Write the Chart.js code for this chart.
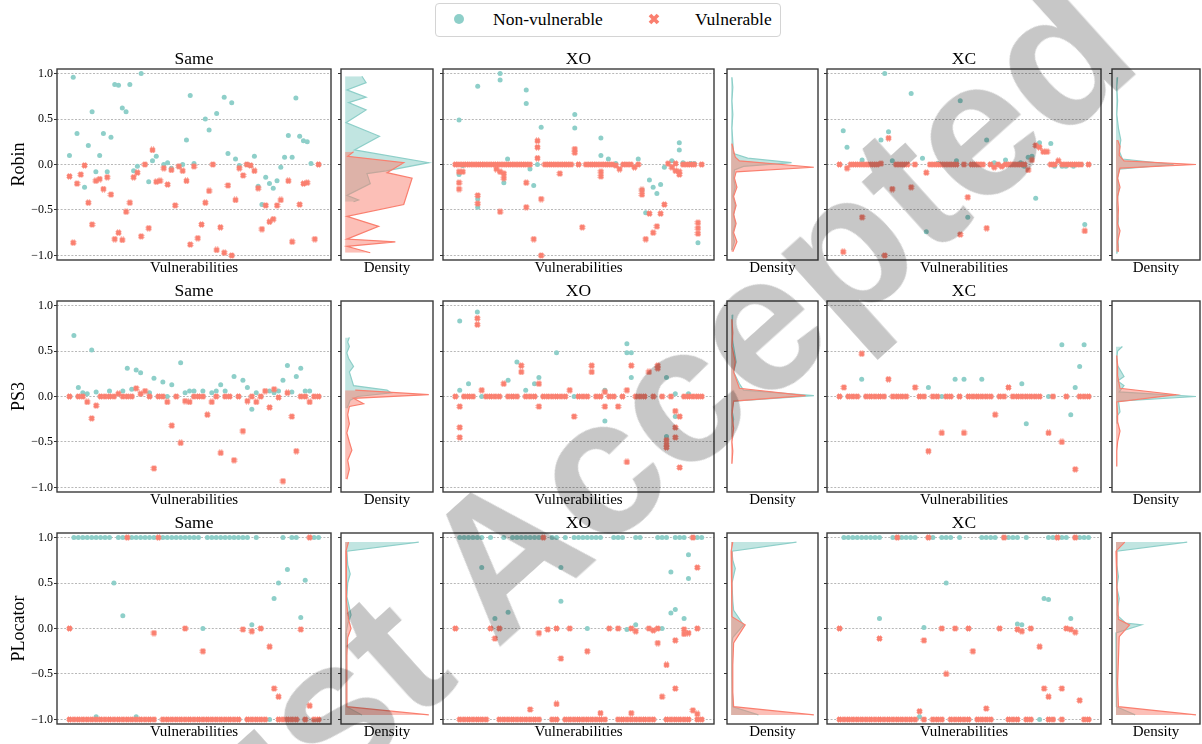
<!DOCTYPE html>
<html>
<head>
<meta charset="utf-8">
<script src="https://cdn.jsdelivr.net/npm/chart.js@4.4.1/dist/chart.umd.min.js"></script>
<style>
  html, body { margin: 0; padding: 0; background: #fff; }
  body { position: relative; width: 1202px; height: 744px; overflow: hidden;
         font-family: "Liberation Serif", "Times New Roman", serif; }
  canvas { position: absolute; }
  #legend { position: absolute; left: 435px; top: 3px; width: 344px; height: 32px;
            border: 1px solid #d4d4d4; border-radius: 4px; background: #fff; z-index: 5; }
  #legend .lab { position: absolute; top: 0; line-height: 30px; font-size: 17.5px; color: #000; white-space: nowrap; }
  #legend .dot { position: absolute; left: 18px; top: 10px; width: 10px; height: 10px; border-radius: 50%; background: #8ECFC9; }
  #legend svg { position: absolute; left: 212px; top: 9px; }
  #stamp { position: absolute; left: 165px; top: 948px; transform-origin: 0 0;
           transform: rotate(-42deg) translateY(-67.2px);
           font-family: "Liberation Sans", Arial, sans-serif; font-weight: bold; font-size: 194px;
           line-height: 0; white-space: nowrap; color: rgba(0,0,0,0.22); pointer-events: none; z-index: 10; }
</style>
</head>
<body>
<div id="legend">
  <span class="dot"></span><span class="lab" style="left:57px">Non-vulnerable</span>
  <svg width="12" height="12" viewBox="0 0 12 12"><path d="M2,2 L10,10 M10,2 L2,10" stroke="#FA7F6F" stroke-width="3.8"/></svg>
  <span class="lab" style="left:259px">Vulnerable</span>
</div>
<div id="stamp">Just Accepted</div>
<script>
// ---- Scores per vulnerability (index = vulnerability); an entry may hold several scores ----
const robinSameNon = [0.10,0.96,0.34,null,-0.25,0.21,0.58,-0.08,0.10,0.34,
  -0.08,0.30,0.88,0.87,0.62,0.58,0.88,-0.07,-0.02,1.00,
  null,-0.19,0.04,0.09,null,0.00,0.02,-0.04,null,-0.02,
  0.00,0.27,0.76,0.01,null,null,0.50,0.38,null,0.56,
  null,0.74,0.12,0.68,0.06,-0.01,null,0.00,-0.01,0.09,
  -0.24,-0.44,-0.14,-0.21,-0.26,-0.18,-0.03,0.08,0.32,0.08,
  0.73,0.31,0.26,0.25,0.01,null,null];
const robinSameVul = [-0.13,-0.86,-0.21,-0.11,-0.01,-0.42,-0.66,-0.18,-0.16,-0.27,
  -0.14,-0.33,-0.82,-0.75,-0.83,-0.52,-0.42,-0.14,-0.09,-0.79,
  0.00,-0.70,0.16,-0.19,-0.18,-0.04,-0.22,-0.06,-0.45,-0.02,
  -0.07,-0.18,-0.88,-0.02,-0.81,-0.66,-0.42,-0.29,0.00,-0.94,
  -0.69,-0.97,-0.23,-1.00,-0.39,-0.04,-0.12,0.00,-0.01,-0.07,
  -0.26,-0.71,-0.45,-0.63,-0.60,-0.45,-0.39,null,-0.18,-0.85,
  null,-0.44,-0.21,-0.20,null,-0.82,0.00];

const robinXONon = [null,[0.49,-0.11],-0.01,null,null,null,[0.86,-0.38,-0.47],null,null,null,
  null,null,[1.00,0.93],-0.20,0.06,null,null,null,null,[0.82,0.67],
  -0.05,-0.23,0.00,0.41,null,null,null,null,null,null,
  null,null,[0.55,0.40],null,null,null,null,null,null,[0.29,0.10],
  null,0.06,null,0.01,null,null,null,null,null,0.06,
  -0.28,-0.53,-0.17,-0.25,-0.32,-0.22,-0.03,null,0.04,null,
  [0.24,0.16],0.02,null,0.01,0.01,-0.86,null];
const robinXOVul = [0,[0,-0.08,-0.20,-0.27],[0,-0.08],0,0,0,[0,-0.34,-0.43],0,0,0,
  0,[0,-0.05],[0,-0.08,-0.52],[0,-0.10,-0.15],0,0,0,0,0,[0,-0.20,-0.47],
  0,-0.82,[0.26,0.19,0.07],[-0.38,-1.00],0,0,0,0,[0,-0.10],0,
  0,0,[0.17,0.13],0,-0.69,0,0,0,0,[0,-0.08,-0.13],
  0,0,0,-0.01,-0.05,0,0,0,-0.03,0,
  [-0.28,-0.33],-0.82,-0.54,-0.75,-0.68,-0.54,-0.44,0.01,-0.03,[0.01,-0.07],
  [-0.08,-0.11],0,0,0,0,[-0.64,-0.70,-0.76],0];

const robinXCNon = [null,0.37,0.19,null,null,null,0.05,null,null,null,
  null,0.27,1.00,0.36,0.04,null,null,null,null,0.78,
  null,null,0.07,-0.74,null,null,0.01,null,null,null,
  null,0.04,0.70,null,-0.58,null,null,null,null,0.27,
  null,0.02,null,null,0.05,null,null,null,0.02,-0.02,
  0.08,0.09,-0.37,0.24,null,null,0.23,-0.02,null,-0.02,
  -0.02,null,-0.02,null,0.00,-0.66,null];
const robinXCVul = [0,-0.96,-0.04,0,0,0,[0,-0.58],0,0,0,
  0,0.01,-1.00,0.29,-0.27,0,0,0,0,-0.25,
  0,null,null,-0.09,0,0,0,0,0,0,
  0,0,-0.77,0,-0.36,0,0,0,0,-0.70,
  0,-0.03,0,-0.02,0,0,0,0,0,0,
  -0.06,0.05,0.21,0.19,0.14,0.14,0,0,0.04,0,
  0,0,0,0,0,-0.73,0];

const ps3SameNon = [null,0.67,0.10,0.04,0.03,0.51,0.05,null,null,0.06,
  null,null,0.06,0.31,0.08,0.29,0.26,null,0.04,0.20,
  null,0.16,0.00,0.13,null,0.37,0.04,0.06,0.06,null,
  0.06,null,0.04,0.06,0.13,0.06,null,0.22,null,0.18,
  0.10,-0.14,0.04,null,null,0.06,0.04,0.06,0.18,0.34,
  0.05,0.22,0.31,0.06,0.06,null,null];
const ps3SameVul = [0,null,0,0,-0.06,-0.24,-0.10,0,0,0,
  0,0.03,0,0,0,0.09,0.03,0.06,0,-0.79,
  0,0,-0.06,-0.32,0,-0.51,-0.05,-0.06,0,0,
  0,-0.20,-0.06,0,-0.62,0,0,-0.70,0,-0.38,
  -0.05,0,-0.06,0,0.06,-0.12,0.08,-0.01,-0.93,0.04,
  -0.22,-0.60,0,0,-0.06,0,0];

const ps3XONon = [null,[0.83,0.07],null,0.14,null,0.93,0.00,null,null,null,
  null,null,0.18,null,0.38,null,0.07,null,0.14,0.21,
  null,null,null,0.48,null,null,null,0.00,null,null,
  null,null,null,null,[0.07,-0.27],null,null,null,null,[0.58,0.48],
  [0.48,0.21],null,null,null,null,null,null,null,[0.21,-0.44],null,
  [0.03,-0.22],null,null,0.03,null,null,null];
const ps3XOVul = [0,[-0.11,-0.34,-0.45],0,0,0,[0.86,0.79],0.07,0,0,0,
  0,0.14,0,0,0,[0.34,0.27],0,0,0,[0.14,-0.11],
  0,0,0,0,0,0,0.07,-0.22,0,0,
  0,[0.34,0.27],0,0,[0.05,-0.11],0,0,-0.11,0,[0.07,-0.72],
  0.34,0,0,0,0.27,0,[0.34,0.31],0,[-0.48,-0.53,-0.56],0,
  [-0.16,-0.34,-0.45],[-0.22,-0.78],0,0,0,0,0];

const ps3XCNon = [null,null,null,null,null,0.19,null,null,null,null,
  null,null,null,null,null,null,null,null,null,null,
  0.10,null,null,0.00,null,null,0.19,null,0.19,null,
  null,null,0.19,null,null,null,null,null,null,null,
  null,0.14,-0.30,null,null,null,null,0.00,null,null,
  0.57,null,-0.20,0.10,0.33,0.57,null];
const ps3XCVul = [0,0.10,0,0,0,0.47,0,0,0,0,
  0,0.19,0,0,0,0,null,0.10,0,0,
  -0.60,0,0,-0.40,0,0,null,0,-0.40,0,
  0,0,0,0,0,-0.20,0,0,0.10,0,
  0,0,0,0,0,0,null,-0.40,0,null,
  -0.50,0,null,-0.80,0,0,0];

const plocSameNon = [null,1,1,1,1,1,[1,-0.97],1,1,1,
  0.50,1,[1,0.14],null,1,[1,-0.97],1,1,1,1,
  null,1,1,1,1,1,1,1,1,1,
  0.00,1,1,1,1,1,1,1,1,1,
  1,0.04,1,null,null,-1.00,0.33,0.50,1,0.65,
  1,1,0.12,0.53,null,1,1];
const plocSameVul = [[0,-1],-1,-1,-1,-1,-1,-1,-1,-1,-1,
  -1,-1,-1,[1,-1],-1,-1,-1,-1,-1,[-0.05,-1],
  1,-1,-1,-1,-1,-1,[0,-1],-1,-1,-1,
  [-0.25,-1],-1,-1,-1,-1,-1,-1,-1,-1,-0.01,
  -1,[-0.03,-1],-1,[0,-1],-1,-0.20,-0.66,[-0.75,-1],-1,-1,
  -1,-1,-0.01,-1,[1,-0.85],-1,-1];

const plocXONon = [null,1,1,1,1,1,[1,0.67],null,1,0.11,
  null,1,0.18,1,1,1,1,1,1,1,
  null,null,1,1,[0.67,0.30],1,null,1,1,1,
  [1,0],1,1,1,null,null,1,1,1,-0.01,
  null,[1,0.04],1,null,null,null,1,[1,0],1,[0.62,0.17],
  [1,0.21],1,[1,0.11],[0.81,0.55],1,1,1];
const plocXOVul = [0,-1,-1,-1,-1,-1,-1,-1,0,-0.11,
  [0,-1],-1,-1,-1,-1,-1,-1,[-0.89,-1],-1,[-0.05,-1],
  1,-0.01,-1,[0,-0.83,-1],-0.33,-1,[0,-1],-1,-1,-1,
  [-0.25,-1],-1,-1,[-0.93,-1],-1,0,null,[0,-1],-1,-1,
  [0,-0.93,-1],[-0.03,-1],-1,-1,[0,-1],[-0.02,-1],[-0.16,0],-0.75,[-0.40,-1],-1,
  [-0.13,-0.66,-1],-1,[-0.01,-0.06,-1],[-0.05,-1],[1,-0.90],[0,0.67,-0.94,-1],-1];

const plocXCNon = [null,1,1,1,1,1,1,1,1,[1,0.11],
  null,null,1,1,1,1,1,1,-0.97,0.01,
  1,1,null,1,[1,0.50],1,null,1,null,null,
  null,null,1,1,1,1,null,1,1,1,
  [1,0.05],0.04,1,null,null,-1,0.33,[1,0.32],1,1,
  1,1,0.11,1,1,1,1];
const plocXCVul = [[0,-1],-1,-1,-1,-1,-1,-1,-1,-1,[-0.11,-1],
  -1,-1,-1,[1,-1],-1,-1,-1,-1,-0.91,[-0.13,-1],
  1,-1,-1,[0,-1],-0.50,-1,[0,-1],-1,-1,[0,-1],
  -0.25,-1,-1,[-0.88,-1],-1,null,0,1,-1,-1,
  [-0.01,-1],-0.03,-1,[0,-1],null,-0.20,-0.66,[-0.75,-1],-1,1,
  [-0.66,-1],0,-0.01,[1,-0.04],-0.79,-1,-1];

// ---- Density profiles: [score, relative density] from top to bottom ----
const robinSameNonDen = [[0.97,0.20],[0.90,0.25],[0.82,0.02],[0.74,0.25],[0.68,0.04],[0.60,0.25],[0.46,0.01],[0.31,0.41],[0.16,0.11],[0.02,1.00],[-0.07,0.49],[-0.10,0.26],[-0.21,0.30],[-0.34,0.02],[-0.39,0.16],[-0.41,0.10]];
const robinSameVulDen = [[0.14,0.10],[0.09,0.03],[0.02,0.70],[-0.09,0.50],[-0.15,0.80],[-0.44,0.70],[-0.57,0.02],[-0.68,0.40],[-0.82,0.02],[-0.85,0.60],[-0.90,0.02],[-0.97,0.30]];
const robinXONonDen = [[0.96,0.01],[0.85,0.02],[0.70,0.01],[0.55,0.02],[0.40,0.01],[0.25,0.02],[0.12,0.03],[0.07,0.20],[0.02,0.73],[-0.02,0.15],[-0.06,0.04],[-0.15,0.03],[-0.25,0.05],[-0.35,0.02],[-0.45,0.05],[-0.55,0.03],[-0.65,0.05],[-0.75,0.02],[-0.85,0.04],[-0.94,0.01]];
const robinXOVulDen = [[0.23,0.01],[0.15,0.03],[0.08,0.05],[0.04,0.10],[-0.03,1.00],[-0.08,0.06],[-0.15,0.04],[-0.25,0.07],[-0.35,0.03],[-0.45,0.06],[-0.55,0.03],[-0.65,0.06],[-0.75,0.03],[-0.85,0.07],[-0.96,0.02]];
const robinXCNonDen = [[0.96,0.02],[0.85,0.01],[0.70,0.02],[0.55,0.01],[0.40,0.03],[0.27,0.06],[0.15,0.04],[0.06,0.08],[0.00,0.72],[-0.05,0.04],[-0.15,0.02],[-0.30,0.03],[-0.45,0.01],[-0.60,0.03],[-0.75,0.02],[-0.90,0.03],[-0.98,0.01]];
const robinXCVulDen = [[0.27,0.02],[0.20,0.05],[0.10,0.04],[0.04,0.10],[0.00,1.00],[-0.04,0.05],[-0.15,0.02],[-0.25,0.05],[-0.35,0.02],[-0.50,0.03],[-0.65,0.02],[-0.73,0.05],[-0.85,0.02],[-0.96,0.03]];
const ps3SameNonDen = [[0.65,0.05],[0.60,0.03],[0.55,0.05],[0.48,0.02],[0.42,0.04],[0.33,0.10],[0.27,0.05],[0.12,0.10],[0.07,0.50],[0.04,0.55],[0.00,0.15],[-0.04,0.06],[-0.09,0.04],[-0.13,0.02]];
const ps3SameVulDen = [[0.07,0.12],[0.02,1.00],[-0.02,0.10],[-0.08,0.22],[-0.11,0.05],[-0.20,0.03],[-0.30,0.05],[-0.40,0.02],[-0.50,0.05],[-0.59,0.08],[-0.70,0.03],[-0.80,0.05],[-0.91,0.02]];
const ps3XONonDen = [[0.90,0.02],[0.75,0.01],[0.60,0.02],[0.49,0.04],[0.38,0.06],[0.27,0.03],[0.14,0.10],[0.07,0.15],[0.01,1.00],[-0.05,0.03],[-0.15,0.01],[-0.25,0.03],[-0.35,0.01],[-0.45,0.02]];
const ps3XOVulDen = [[0.85,0.01],[0.70,0.02],[0.55,0.01],[0.38,0.05],[0.27,0.03],[0.09,0.10],[0.01,0.90],[-0.05,0.03],[-0.20,0.01],[-0.35,0.03],[-0.50,0.01],[-0.60,0.02],[-0.74,0.01]];
const ps3XCNonDen = [[0.55,0.08],[0.50,0.02],[0.42,0.01],[0.34,0.02],[0.22,0.10],[0.17,0.02],[0.12,0.10],[0.05,0.04],[0.00,1.00],[-0.05,0.03],[-0.17,0.05],[-0.22,0.01],[-0.30,0.02]];
const ps3XCVulDen = [[0.45,0.01],[0.35,0.02],[0.23,0.02],[0.09,0.05],[0.02,0.75],[-0.06,0.01],[-0.20,0.02],[-0.28,0.02],[-0.38,0.05],[-0.50,0.02],[-0.60,0.01],[-0.77,0.01]];
const plocSameNonDen = [[0.95,0.88],[0.85,0.02],[0.70,0.03],[0.60,0.06],[0.50,0.03],[0.35,0.02],[0.15,0.07],[0.05,0.03],[-0.05,0.01],[-0.30,0.02],[-0.60,0.01],[-0.86,0.02],[-0.95,0.20]];
const plocSameVulDen = [[0.95,0.04],[0.85,0.01],[0.60,0.01],[0.30,0.02],[0.10,0.04],[0.00,0.07],[-0.10,0.03],[-0.30,0.02],[-0.60,0.02],[-0.86,0.02],[-0.95,1.00]];
const plocXONonDen = [[0.95,0.79],[0.85,0.01],[0.75,0.02],[0.66,0.05],[0.50,0.01],[0.30,0.02],[0.20,0.03],[0.04,0.15],[-0.10,0.02],[-0.16,0.01],[-0.50,0.01],[-0.86,0.02],[-0.95,0.33]];
const plocXOVulDen = [[0.95,0.02],[0.85,0.00],[0.50,0.01],[0.13,0.01],[0.04,0.17],[-0.16,0.03],[-0.40,0.02],[-0.70,0.02],[-0.86,0.03],[-0.95,1.00]];
const plocXCNonDen = [[0.95,0.89],[0.85,0.01],[0.70,0.01],[0.57,0.03],[0.45,0.01],[0.33,0.04],[0.15,0.01],[0.06,0.12],[0.04,0.32],[-0.05,0.00],[-0.50,0.00],[-0.86,0.01],[-0.95,0.24]];
const plocXCVulDen = [[0.95,0.11],[0.85,0.00],[0.50,0.01],[0.10,0.03],[0.04,0.17],[-0.09,0.04],[-0.35,0.03],[-0.60,0.02],[-0.86,0.03],[-0.95,1.00]];

const rowNames = ['Robin', 'PS3', 'PLocator'];
const colNames = ['Same', 'XO', 'XC'];
const yTickValues = [-1, -0.5, 0, 0.5, 1];

const grid = [
  [ {non: robinSameNon, vul: robinSameVul, nonDen: robinSameNonDen, vulDen: robinSameVulDen},
    {non: robinXONon,   vul: robinXOVul,   nonDen: robinXONonDen,   vulDen: robinXOVulDen},
    {non: robinXCNon,   vul: robinXCVul,   nonDen: robinXCNonDen,   vulDen: robinXCVulDen} ],
  [ {non: ps3SameNon, vul: ps3SameVul, nonDen: ps3SameNonDen, vulDen: ps3SameVulDen},
    {non: ps3XONon,   vul: ps3XOVul,   nonDen: ps3XONonDen,   vulDen: ps3XOVulDen},
    {non: ps3XCNon,   vul: ps3XCVul,   nonDen: ps3XCNonDen,   vulDen: ps3XCVulDen} ],
  [ {non: plocSameNon, vul: plocSameVul, nonDen: plocSameNonDen, vulDen: plocSameVulDen},
    {non: plocXONon,   vul: plocXOVul,   nonDen: plocXONonDen,   vulDen: plocXOVulDen},
    {non: plocXCNon,   vul: plocXCVul,   nonDen: plocXCNonDen,   vulDen: plocXCVulDen} ]
];

// ---- Styling and layout ----
const TEAL = '#8ECFC9', RED = '#FA7F6F';
const TEAL_FILL = 'rgba(142,207,201,0.55)', RED_FILL = 'rgba(250,127,111,0.5)';
const SERIF = '"Liberation Serif", "Times New Roman", serif';
const ROW_TOPS = [69, 301, 533];
const PLOT_H = 191, PAD_T = 24, PAD_B = 18, PAD_R = 2;
const SCATTER_COLS = [{left: 57, width: 276}, {left: 443, width: 273}, {left: 827, width: 276}];
const DENSITY_COLS = [{left: 341, width: 92}, {left: 727, width: 91}, {left: 1112, width: 88}];

// filled "X" marker for the vulnerable scores
function makeCross(size) {
  const c = document.createElement('canvas');
  c.width = size; c.height = size;
  const g = c.getContext('2d');
  g.strokeStyle = RED; g.lineWidth = size * 0.42;
  const m = size * 0.2;
  g.beginPath();
  g.moveTo(m, m); g.lineTo(size - m, size - m);
  g.moveTo(size - m, m); g.lineTo(m, size - m);
  g.stroke();
  return c;
}
const CROSS = makeCross(7);

const framePlugin = {
  id: 'frame',
  afterDraw(chart) {
    const {ctx, chartArea: a} = chart;
    ctx.save();
    ctx.strokeStyle = '#3a3a3a';
    ctx.lineWidth = 1.4;
    ctx.strokeRect(a.left, a.top, a.right - a.left, a.bottom - a.top);
    ctx.restore();
  }
};

function toPoints(arr) {
  const pts = [];
  arr.forEach((e, i) => {
    if (e === null || e === undefined) return;
    [].concat(e).forEach(v => pts.push({x: i, y: v}));
  });
  return pts;
}
function toProfile(pairs) { return pairs.map(([v, d]) => ({x: d, y: v})); }
function fmt(v) { return (v < 0 ? '\u2212' : '') + Math.abs(v).toFixed(1); }

function makeCanvas(left, top, w, h) {
  const c = document.createElement('canvas');
  c.width = w; c.height = h;
  c.style.left = left + 'px'; c.style.top = top + 'px';
  c.style.width = w + 'px'; c.style.height = h + 'px';
  document.body.appendChild(c);
  return c;
}

function yScale(o) {
  return {
    type: 'linear', min: -1.05, max: 1.05,
    afterBuildTicks: s => { s.ticks = yTickValues.map(v => ({value: v})); },
    afterFit: s => { s.width = o.width; },
    ticks: {display: o.labels, padding: 1, color: '#000', autoSkip: false,
            font: {family: SERIF, size: 12}, callback: v => fmt(v)},
    grid: {display: true, drawOnChartArea: o.grid, drawTicks: true, tickLength: 3,
           color: '#a6a6a6', lineWidth: 0.8, tickColor: '#333', tickWidth: 1},
    border: {display: false, dash: [2, 1.6]},
    title: o.title
      ? {display: true, text: o.title, color: '#000', font: {family: SERIF, size: 18, lineHeight: 1.2},
         padding: {top: 8.2, bottom: 0}}
      : {display: false}
  };
}
function xScale(min, max, label) {
  return {
    type: 'linear', min, max,
    afterFit: s => { s.height = PAD_B; },
    ticks: {display: false},
    grid: {display: false},
    border: {display: false},
    title: {display: true, text: label, color: '#000',
            font: {family: SERIF, size: 15, lineHeight: 1.2}, padding: {top: 0, bottom: 1}}
  };
}

const baseOptions = {
  responsive: false, animation: false, devicePixelRatio: 1, events: []
};

grid.forEach((row, r) => {
  row.forEach((p, c) => {
    // scatter panel
    const sc = SCATTER_COLS[c];
    const padL = c === 0 ? 57 : 5;
    const n = p.non.length;
    const cv = makeCanvas(sc.left - padL, ROW_TOPS[r] - PAD_T, sc.width + padL + PAD_R, PLOT_H + PAD_T + PAD_B);
    new Chart(cv, {
      type: 'scatter',
      data: {datasets: [
        {label: 'Vulnerable', data: toPoints(p.vul), pointStyle: CROSS, pointRadius: 3,
         backgroundColor: RED, borderWidth: 0, order: 0},
        {label: 'Non-vulnerable', data: toPoints(p.non), pointStyle: 'circle', pointRadius: 2.5,
         backgroundColor: TEAL, borderWidth: 0, order: 1}
      ]},
      options: Object.assign({}, baseOptions, {
        layout: {padding: {left: 0, right: PAD_R, top: 0, bottom: 0}},
        plugins: {
          legend: {display: false}, tooltip: {enabled: false},
          title: {display: true, text: colNames[c], fullSize: false, color: '#000',
                  font: {family: SERIF, size: 17.5, weight: 'normal', lineHeight: 1.1},
                  padding: {top: 4.75, bottom: 0}}
        },
        scales: {
          x: xScale(-0.05 * (n - 1), 1.05 * (n - 1), 'Vulnerabilities'),
          y: yScale({labels: c === 0, grid: true, width: padL, title: c === 0 ? rowNames[r] : null})
        }
      }),
      plugins: [framePlugin]
    });

    // density panel
    const dc = DENSITY_COLS[c];
    const cd = makeCanvas(dc.left - 5, ROW_TOPS[r] - PAD_T, dc.width + 5 + PAD_R, PLOT_H + PAD_T + PAD_B);
    new Chart(cd, {
      type: 'line',
      data: {datasets: [
        {label: 'Vulnerable', data: toProfile(p.vulDen), borderColor: RED, backgroundColor: RED_FILL,
         fill: 'origin', borderWidth: 1.2, pointRadius: 0, tension: 0, order: 0},
        {label: 'Non-vulnerable', data: toProfile(p.nonDen), borderColor: TEAL, backgroundColor: TEAL_FILL,
         fill: 'origin', borderWidth: 1.2, pointRadius: 0, tension: 0, order: 1}
      ]},
      options: Object.assign({}, baseOptions, {
        indexAxis: 'y',
        layout: {padding: {left: 0, right: PAD_R, top: PAD_T, bottom: 0}},
        plugins: {legend: {display: false}, tooltip: {enabled: false}},
        scales: {
          x: xScale(-0.05, 1.05, 'Density'),
          y: yScale({labels: false, grid: false, width: 5, title: null})
        }
      }),
      plugins: [framePlugin]
    });
  });
});
</script>
</body>
</html>
